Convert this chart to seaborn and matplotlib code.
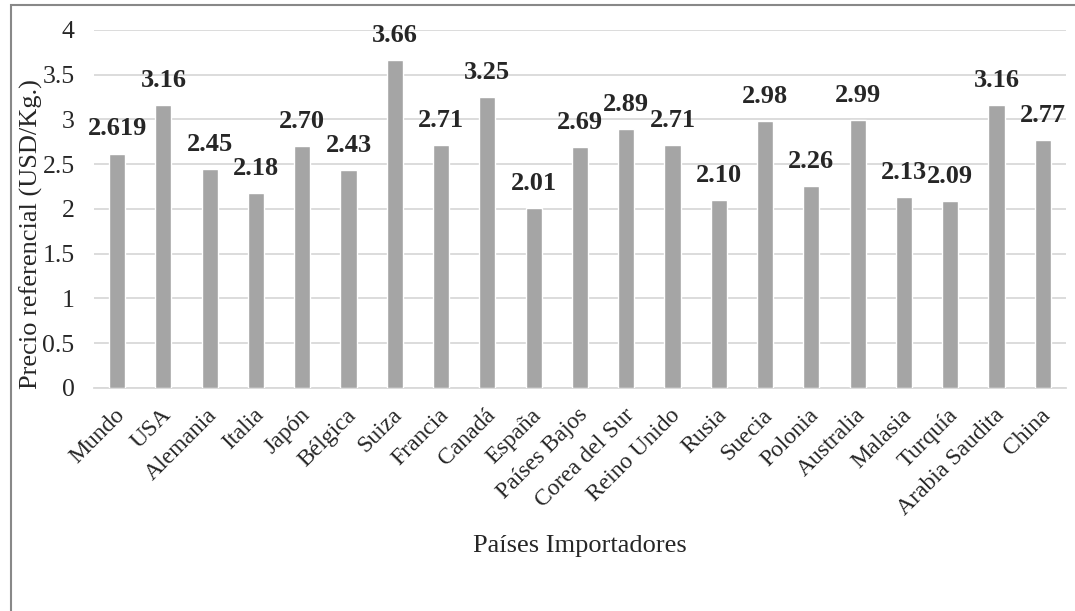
import pandas as pd
import seaborn as sns
import matplotlib.pyplot as plt
import matplotlib.transforms as mtrans
from matplotlib.patches import Rectangle

paises = ["Mundo", "USA", "Alemania", "Italia", "Japón", "Bélgica", "Suiza",
          "Francia", "Canadá", "España", "Países Bajos", "Corea del Sur",
          "Reino Unido", "Rusia", "Suecia", "Polonia", "Australia", "Malasia",
          "Turquía", "Arabia Saudita", "China"]
precios = [2.619, 3.16, 2.45, 2.18, 2.70, 2.43, 3.66, 2.71, 3.25, 2.01, 2.69,
           2.89, 2.71, 2.10, 2.98, 2.26, 2.99, 2.13, 2.09, 3.16, 2.77]
etiquetas = ["2.619", "3.16", "2.45", "2.18", "2.70", "2.43", "3.66", "2.71",
             "3.25", "2.01", "2.69", "2.89", "2.71", "2.10", "2.98", "2.26",
             "2.99", "2.13", "2.09", "3.16", "2.77"]
yticks = [0, 0.5, 1, 1.5, 2, 2.5, 3, 3.5, 4]

df = pd.DataFrame({"pais": paises, "precio": precios})

sns.set_style("white")
plt.rcParams['font.family'] = ['Liberation Serif', 'DejaVu Serif']

fig = plt.figure(figsize=(10.75, 6.11), dpi=100)
ax = fig.add_axes([0.0874, 0.365, 0.9042, 0.586])

sns.barplot(data=df, x="pais", y="precio", color="#A5A5A5", width=0.35,
            saturation=1, ax=ax, zorder=3)

# etiquetas de datos en negrita encima de cada barra
for i, (v, t) in enumerate(zip(precios, etiquetas)):
    ax.annotate(t, (i, v), xytext=(0, 13), textcoords="offset points",
                ha="center", va="baseline", fontsize=19, fontweight="bold")

ax.set_ylim(0, 4)
ax.set_xlim(-0.5, len(paises) - 0.5)
ax.set_yticks(yticks)
ax.set_yticklabels([f"{t:g}" for t in yticks], fontsize=18.5)
ax.grid(axis="y", color="#D9D9D9", linewidth=1.3, zorder=0)
ax.tick_params(axis="y", length=0, pad=14)
ax.tick_params(axis="x", length=0, pad=12)
desplaza = mtrans.ScaledTranslation(-3 / 100, 0, fig.dpi_scale_trans)
for lab in ax.get_xticklabels():
    lab.set_rotation(45)
    lab.set_ha("right")
    lab.set_rotation_mode("anchor")
    lab.set_fontsize(17)
    lab.set_transform(lab.get_transform() + desplaza)
for s in ["top", "right", "left"]:
    ax.spines[s].set_visible(False)
ax.spines["bottom"].set_color("#D9D9D9")
ax.spines["bottom"].set_linewidth(1.3)

ax.set_ylabel("Precio referencial (USD/Kg.)", fontsize=19)
ax.yaxis.set_label_coords(-0.064, 0.43)
ax.yaxis.label.set_verticalalignment("center")
ax.set_xlabel("Países Importadores", fontsize=19)
ax.xaxis.set_label_coords(0.5, -0.41)

fig.patches.append(Rectangle((11 / 1075, -0.05), 1.05, 1.05 - 5 / 611,
                             transform=fig.transFigure, fill=False,
                             edgecolor="#888888", linewidth=1.5))

fig.savefig("out.png", dpi=100)
